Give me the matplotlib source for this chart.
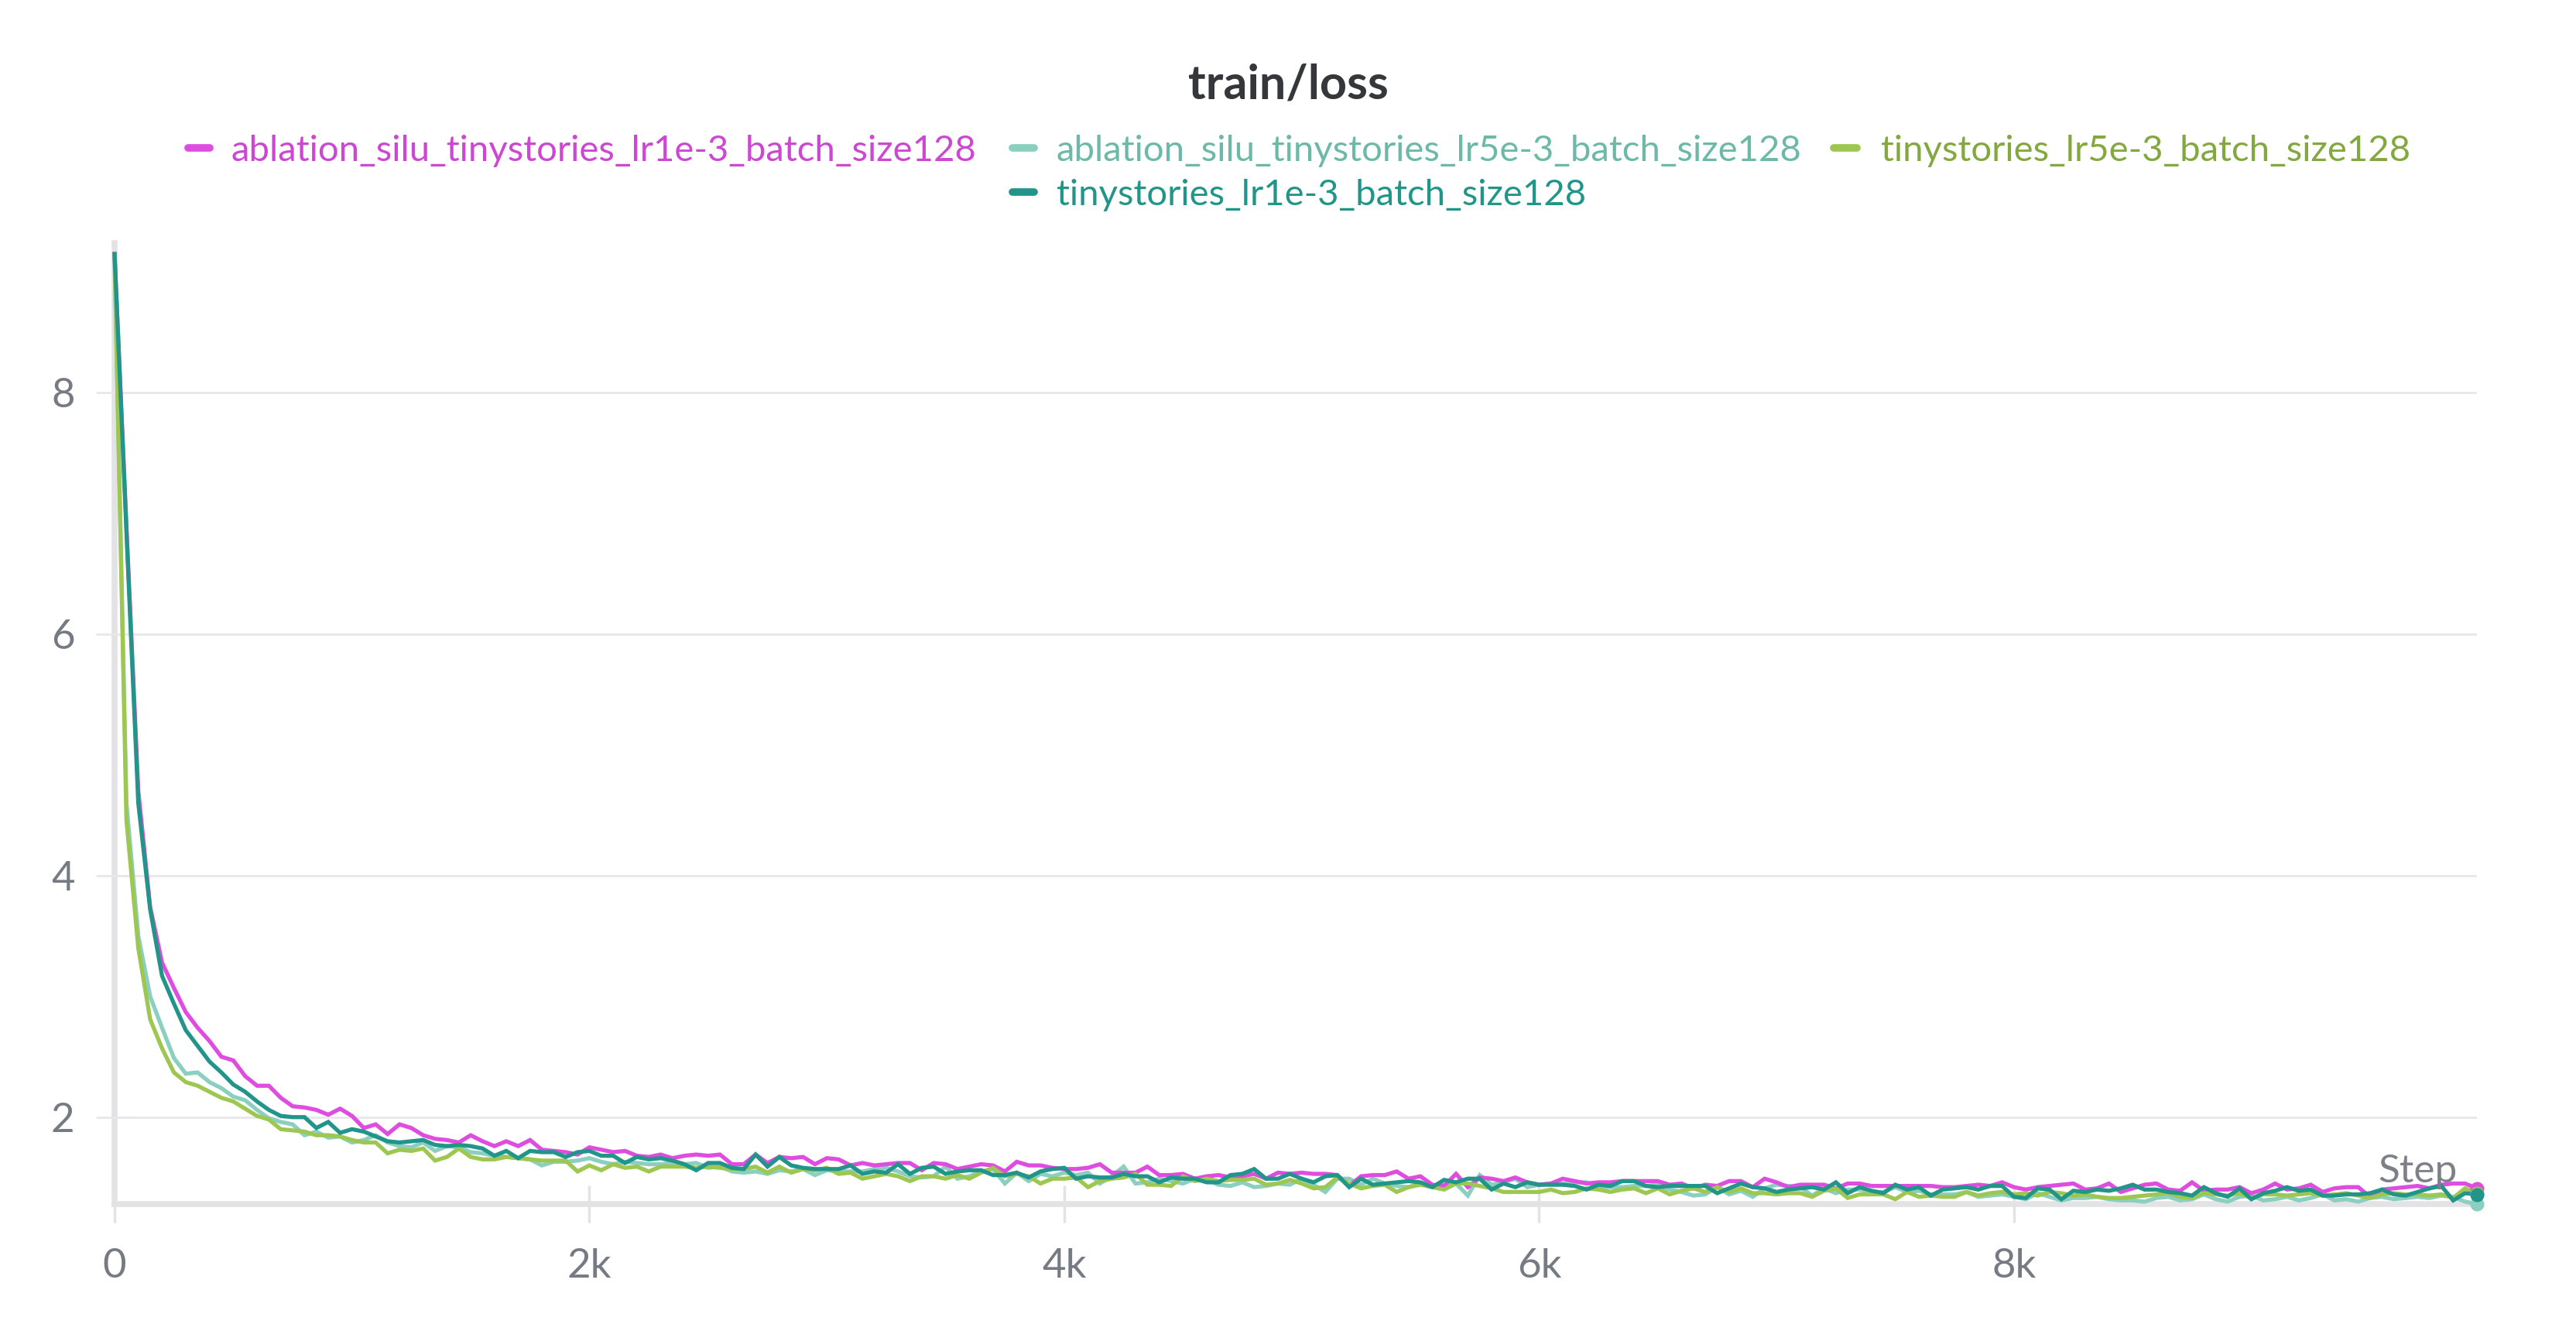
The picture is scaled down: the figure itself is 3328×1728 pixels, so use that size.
import matplotlib
matplotlib.use('Agg')
import matplotlib.pyplot as plt
from matplotlib.lines import Line2D

plt.rcParams['font.family'] = ['Lato', 'DejaVu Sans']

# ---------------- data ----------------
steps = list(range(0, 10000, 50))  # logged every 50 steps, 0 .. 9950

series_names = [
    "ablation_silu_tinystories_lr1e-3_batch_size128",
    "ablation_silu_tinystories_lr5e-3_batch_size128",
    "tinystories_lr5e-3_batch_size128",
    "tinystories_lr1e-3_batch_size128",
]

loss_silu_lr1e3 = [
    9.15, 6.90, 4.70, 3.74,
    3.28, 3.07, 2.87, 2.74, 2.63, 2.50, 2.47, 2.34, 2.26, 2.26, 2.16, 2.09, 2.08, 2.06, 2.02, 2.07,
    2.01, 1.91, 1.94, 1.86, 1.94, 1.91, 1.85, 1.82, 1.81, 1.79, 1.85, 1.80, 1.76, 1.80, 1.76, 1.81,
    1.73, 1.72, 1.71, 1.69,
    1.75, 1.73, 1.71, 1.72, 1.68, 1.67, 1.69, 1.66, 1.68, 1.69, 1.68, 1.69, 1.61, 1.61, 1.69, 1.62,
    1.67, 1.66, 1.67, 1.61, 1.66, 1.65, 1.60, 1.62, 1.60, 1.61, 1.62, 1.62, 1.56, 1.62, 1.61, 1.57,
    1.59, 1.61, 1.60, 1.55, 1.63, 1.60, 1.60, 1.58,
    1.57, 1.57, 1.58, 1.61, 1.54, 1.54, 1.54, 1.59, 1.52, 1.52, 1.53, 1.49, 1.51, 1.52, 1.50, 1.51,
    1.53, 1.49, 1.54, 1.53, 1.54, 1.53, 1.53, 1.52, 1.43, 1.51, 1.52, 1.52, 1.55, 1.49, 1.51, 1.44,
    1.43, 1.53, 1.42, 1.50, 1.49, 1.47, 1.50,
    1.46, 1.44, 1.45, 1.49, 1.47, 1.45, 1.46, 1.46, 1.47, 1.47, 1.47, 1.47, 1.44, 1.45, 1.41, 1.44,
    1.43, 1.47, 1.47, 1.42, 1.49, 1.46, 1.42, 1.44, 1.44, 1.44, 1.41, 1.45, 1.45, 1.43, 1.43, 1.43,
    1.43, 1.43, 1.43, 1.42, 1.42, 1.43, 1.44,
    1.43, 1.46, 1.42, 1.40, 1.42, 1.43, 1.44, 1.45, 1.40, 1.41, 1.45, 1.38, 1.41, 1.44, 1.45, 1.40,
    1.39, 1.46, 1.39, 1.40, 1.40, 1.42, 1.37, 1.40, 1.45, 1.40, 1.41, 1.44, 1.38, 1.41, 1.42, 1.42,
    1.34, 1.40, 1.41, 1.42, 1.43, 1.41, 1.44, 1.45, 1.45, 1.41,
]

loss_silu_lr5e3 = [
    9.15, 4.60, 3.50, 3.00,
    2.74, 2.49, 2.36, 2.37, 2.29, 2.24, 2.17, 2.14, 2.06, 1.99, 1.96, 1.94, 1.85, 1.88, 1.83, 1.84,
    1.79, 1.81, 1.85, 1.79, 1.76, 1.75, 1.79, 1.72, 1.76, 1.75, 1.71, 1.70, 1.68, 1.67, 1.66, 1.65,
    1.60, 1.63, 1.63, 1.64,
    1.66, 1.63, 1.61, 1.63, 1.62, 1.61, 1.61, 1.62, 1.61, 1.62, 1.58, 1.59, 1.55, 1.54, 1.55, 1.53,
    1.56, 1.55, 1.57, 1.52, 1.56, 1.55, 1.55, 1.55, 1.57, 1.58, 1.55, 1.51, 1.50, 1.51, 1.59, 1.49,
    1.51, 1.55, 1.57, 1.45, 1.54, 1.47, 1.53, 1.51,
    1.54, 1.52, 1.54, 1.45, 1.51, 1.59, 1.45, 1.46, 1.49, 1.47, 1.45, 1.49, 1.48, 1.44, 1.43, 1.46,
    1.42, 1.43, 1.45, 1.44, 1.49, 1.44, 1.38, 1.49, 1.49, 1.44, 1.49, 1.45, 1.43, 1.42, 1.45, 1.43,
    1.44, 1.45, 1.35, 1.52, 1.44, 1.46, 1.49,
    1.42, 1.44, 1.45, 1.45, 1.46, 1.46, 1.42, 1.42, 1.42, 1.43, 1.43, 1.44, 1.40, 1.38, 1.35, 1.36,
    1.42, 1.36, 1.39, 1.34, 1.41, 1.44, 1.43, 1.42, 1.35, 1.41, 1.37, 1.40, 1.40, 1.38, 1.38, 1.42,
    1.38, 1.39, 1.36, 1.36, 1.36, 1.38, 1.34,
    1.35, 1.36, 1.34, 1.32, 1.37, 1.34, 1.31, 1.33, 1.33, 1.34, 1.32, 1.31, 1.31, 1.30, 1.33, 1.34,
    1.31, 1.32, 1.36, 1.32, 1.30, 1.34, 1.35, 1.31, 1.32, 1.34, 1.31, 1.33, 1.36, 1.31, 1.32, 1.30,
    1.33, 1.34, 1.32, 1.33, 1.34, 1.33, 1.35, 1.34, 1.30, 1.28,
]

loss_base_lr5e3 = [
    9.15, 4.46, 3.40, 2.81,
    2.57, 2.37, 2.29, 2.26, 2.21, 2.16, 2.13, 2.07, 2.01, 1.98, 1.90, 1.89, 1.88, 1.85, 1.85, 1.84,
    1.81, 1.79, 1.79, 1.70, 1.73, 1.72, 1.74, 1.64, 1.67, 1.74, 1.67, 1.65, 1.65, 1.67, 1.66, 1.65,
    1.64, 1.64, 1.64, 1.55,
    1.60, 1.56, 1.61, 1.58, 1.59, 1.55, 1.59, 1.59, 1.59, 1.58, 1.59, 1.58, 1.57, 1.57, 1.59, 1.54,
    1.59, 1.54, 1.57, 1.56, 1.58, 1.53, 1.54, 1.49, 1.51, 1.53, 1.51, 1.47, 1.51, 1.51, 1.49, 1.52,
    1.49, 1.54, 1.58, 1.51, 1.53, 1.51, 1.45, 1.49,
    1.49, 1.50, 1.42, 1.47, 1.49, 1.50, 1.53, 1.44, 1.44, 1.43, 1.51, 1.47, 1.49, 1.47, 1.48, 1.48,
    1.49, 1.44, 1.45, 1.48, 1.45, 1.41, 1.42, 1.50, 1.45, 1.41, 1.43, 1.44, 1.38, 1.42, 1.44, 1.42,
    1.40, 1.45, 1.45, 1.43, 1.41, 1.38, 1.38,
    1.38, 1.38, 1.40, 1.37, 1.38, 1.41, 1.40, 1.38, 1.40, 1.41, 1.37, 1.41, 1.36, 1.39, 1.41, 1.38,
    1.42, 1.38, 1.41, 1.37, 1.37, 1.36, 1.37, 1.37, 1.34, 1.39, 1.41, 1.33, 1.36, 1.36, 1.36, 1.32,
    1.38, 1.34, 1.35, 1.34, 1.34, 1.38, 1.35,
    1.37, 1.38, 1.36, 1.37, 1.35, 1.38, 1.37, 1.35, 1.36, 1.34, 1.33, 1.33, 1.34, 1.35, 1.36, 1.37,
    1.34, 1.33, 1.37, 1.36, 1.35, 1.37, 1.33, 1.36, 1.36, 1.35, 1.36, 1.37, 1.35, 1.36, 1.37, 1.35,
    1.33, 1.36, 1.37, 1.36, 1.36, 1.35, 1.36, 1.33, 1.41, 1.37,
]

loss_base_lr1e3 = [
    9.15, 6.85, 4.60, 3.72,
    3.17, 2.94, 2.72, 2.59, 2.46, 2.37, 2.27, 2.21, 2.13, 2.06, 2.01, 2.00, 2.00, 1.91, 1.96, 1.87,
    1.90, 1.88, 1.84, 1.80, 1.79, 1.80, 1.81, 1.77, 1.76, 1.77, 1.76, 1.74, 1.68, 1.72, 1.66, 1.72,
    1.71, 1.71, 1.67, 1.71,
    1.72, 1.68, 1.68, 1.62, 1.67, 1.65, 1.66, 1.64, 1.61, 1.56, 1.62, 1.62, 1.58, 1.57, 1.69, 1.59,
    1.67, 1.60, 1.58, 1.57, 1.57, 1.57, 1.60, 1.53, 1.55, 1.54, 1.61, 1.53, 1.58, 1.59, 1.53, 1.55,
    1.56, 1.56, 1.52, 1.52, 1.54, 1.50, 1.55, 1.57,
    1.58, 1.49, 1.51, 1.50, 1.50, 1.53, 1.51, 1.51, 1.46, 1.50, 1.49, 1.49, 1.46, 1.46, 1.52, 1.53,
    1.57, 1.49, 1.49, 1.53, 1.49, 1.46, 1.51, 1.52, 1.42, 1.49, 1.44, 1.45, 1.46, 1.47, 1.46, 1.42,
    1.48, 1.46, 1.49, 1.49, 1.40, 1.45, 1.42,
    1.46, 1.44, 1.44, 1.44, 1.43, 1.40, 1.44, 1.43, 1.47, 1.47, 1.43, 1.42, 1.43, 1.43, 1.43, 1.43,
    1.37, 1.41, 1.45, 1.42, 1.41, 1.38, 1.40, 1.41, 1.42, 1.40, 1.46, 1.37, 1.42, 1.39, 1.37, 1.44,
    1.40, 1.42, 1.35, 1.40, 1.41, 1.42, 1.40,
    1.43, 1.43, 1.34, 1.33, 1.41, 1.40, 1.32, 1.39, 1.38, 1.40, 1.39, 1.41, 1.44, 1.40, 1.40, 1.38,
    1.37, 1.35, 1.42, 1.37, 1.34, 1.41, 1.32, 1.37, 1.39, 1.42, 1.39, 1.40, 1.35, 1.35, 1.36, 1.36,
    1.37, 1.40, 1.36, 1.35, 1.38, 1.41, 1.43, 1.31, 1.37, 1.36,
]

x_tick_vals = [0, 2000, 4000, 6000, 8000]
x_tick_labels = ["0", "2k", "4k", "6k", "8k"]
y_tick_vals = [2, 4, 6, 8]
y_tick_labels = ["2", "4", "6", "8"]

line_colors = ["#DE4CE0", "#8ACFC0", "#9DC751", "#22958A"]
text_colors = ["#CC47D2", "#6CB9A7", "#83A83F", "#22958A"]
all_losses = [loss_silu_lr1e3, loss_silu_lr5e3, loss_base_lr5e3, loss_base_lr1e3]

# ---------------- figure ----------------
W, H = 3328, 1728
fig = plt.figure(figsize=(W / 100, H / 100), dpi=100, facecolor="white")

def fx(px):
    return px / W

def fy(py):
    return 1 - py / H

ax_left, ax_right, ax_top, ax_bot = 148, 3200, 314, 1555
ax = fig.add_axes([fx(ax_left), fy(ax_bot), fx(ax_right - ax_left), (ax_bot - ax_top) / H])
ax.set_facecolor("white")

zorders = [2, 1, 3, 4]
for vals, c, z in zip(all_losses, line_colors, zorders):
    ax.plot(steps, vals, color=c, lw=3.8, zorder=z, clip_on=False,
            solid_joinstyle="miter")
    ax.plot([steps[-1]], [vals[-1]], "o", ms=13, color=c, zorder=z + 10,
            clip_on=False, mew=0)

ax.set_xlim(0, 9950)
ax.set_ylim(1.28, 9.24)

grid_c = "#e8e8ea"
ax.set_yticks(y_tick_vals)
ax.set_yticklabels(y_tick_labels)
ax.set_xticks(x_tick_vals)
ax.set_xticklabels(x_tick_labels)
ax.yaxis.grid(True, color=grid_c, lw=2.0, zorder=0)
ax.set_axisbelow(True)

for s in ["top", "right"]:
    ax.spines[s].set_visible(False)
for s in ["left", "bottom"]:
    ax.spines[s].set_color("#e3e3e6")
    ax.spines[s].set_linewidth(5.5)
    ax.spines[s].set_zorder(0.5)

tick_c = "#767a83"
ax.tick_params(axis="y", direction="inout", length=34, width=2.0, color=grid_c,
               labelsize=38, labelcolor=tick_c, pad=20)
ax.tick_params(axis="x", direction="inout", length=34, width=2.5, color="#e3e3e6",
               labelsize=38, labelcolor=tick_c, pad=24)

ax.text(fx(3175), fy(1513), "Step", transform=fig.transFigure, ha="right", va="center",
        fontsize=37, color="#7d8089", zorder=20)

# title
fig.text(fx(1664), fy(110), "train/loss", ha="center", va="center", fontsize=44,
         fontweight="bold", color="#35373b")

# legend (manual, W&B style: rows centered)
legend_items = [
    (238, 276, 299, 191),
    (1303, 1341, 1365, 191),
    (2364, 2404, 2430, 191),
    (1303, 1341, 1365, 248),
]
order = [0, 1, 2, 3]
for (h0, h1, tx, ty), i in zip(legend_items, order):
    fig.add_artist(Line2D([fx(h0 + 5), fx(h1 - 5)], [fy(ty), fy(ty)],
                          transform=fig.transFigure, color=line_colors[i], lw=7,
                          solid_capstyle="round"))
    fig.text(fx(tx), fy(ty), series_names[i], ha="left", va="center_baseline",
             fontsize=34, color=text_colors[i])

fig.savefig("out.png", dpi=100, facecolor="white")
